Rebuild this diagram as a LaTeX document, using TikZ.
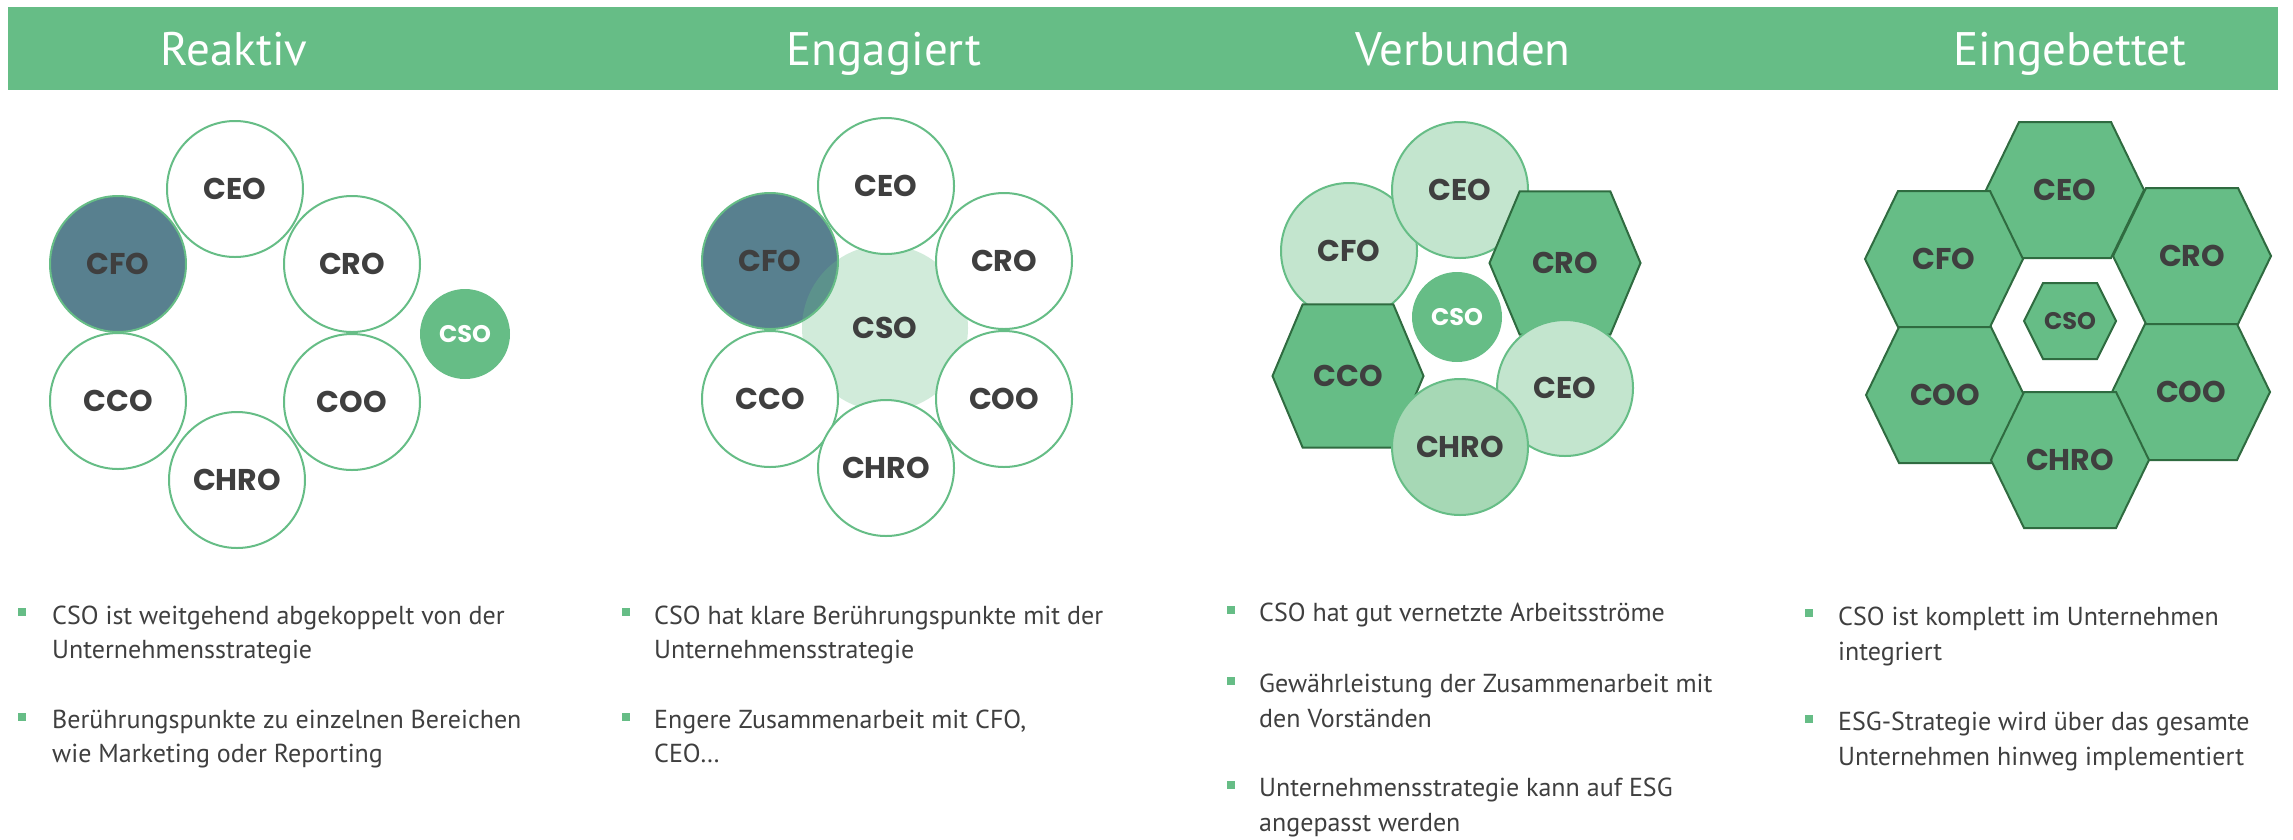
\documentclass[tikz,border=0pt]{standalone}
\usepackage{fontspec}
\setmainfont{PT Sans}
\newfontfamily\rolefont{Poppins}
\usepackage{xcolor}
\usepackage{tikz}
\definecolor{barGreen}{HTML}{66BD86}
\definecolor{cfoBlue}{HTML}{58808F}
\definecolor{paleGreen}{HTML}{C3E5CE}
\definecolor{midGreen}{HTML}{A6D8B5}
\definecolor{hexLine}{HTML}{2F6B40}
\definecolor{inkGray}{HTML}{3F3F3F}
\tikzstyle{head}=[text=white, anchor=base, inner sep=0pt, font=\fontsize{47}{47}\selectfont]
\tikzstyle{role}=[fill=white, draw=barGreen, line width=2pt, shape=circle, minimum size=136pt, inner sep=0pt, text=inkGray, font=\rolefont\bfseries\fontsize{30}{30}\selectfont]
\tikzstyle{cfo role}=[style=role, fill=cfoBlue]
\tikzstyle{pale role}=[style=role, fill=paleGreen]
\tikzstyle{mid role}=[style=role, fill=midGreen]
\tikzstyle{cso}=[fill=barGreen, shape=circle, minimum size=90pt, inner sep=0pt, text=white, font=\rolefont\bfseries\fontsize{24}{24}\selectfont]
\tikzstyle{cso halo}=[fill=barGreen, fill opacity=0.3, text opacity=1, shape=circle, minimum size=166pt, inner sep=0pt, text=inkGray, font=\rolefont\bfseries\fontsize{30}{30}\selectfont]
\tikzstyle{hex}=[fill=barGreen, draw=hexLine, line width=2pt]
\tikzstyle{hex label}=[inner sep=0pt, text=inkGray, font=\rolefont\bfseries\fontsize{30}{30}\selectfont]
\tikzstyle{small label}=[inner sep=0pt, text=inkGray, font=\rolefont\bfseries\fontsize{24}{24}\selectfont]
\tikzstyle{bullet}=[fill=barGreen, shape=rectangle, minimum size=8.5pt, inner sep=0pt]
\tikzstyle{line}=[anchor=base west, inner sep=0pt, text=inkGray, font=\fontsize{26}{26}\selectfont]
% hexagon: centre, half width, half top edge, half height, style
\newcommand{\hexat}[5]{\draw [style=#5, shift={#1}] (-#2,0) -- (-#3,-#4) -- (#3,-#4) -- (#2,0) -- (#3,#4) -- (-#3,#4) -- cycle;}
\pgfdeclarelayer{headlayer}
\pgfdeclarelayer{nodelayer}
\pgfdeclarelayer{textlayer}
\pgfsetlayers{headlayer,nodelayer,textlayer,main}

\begin{document}
\begin{tikzpicture}[x=1pt, y=-1pt]
	\useasboundingbox (0,0) rectangle (2293,839);
	\begin{pgfonlayer}{headlayer}
		\fill [barGreen] (8,7) rectangle (2278,90);
		\node [style=head] (0) at (234, 65) {Reaktiv};
		\node [style=head] (1) at (884, 65) {Engagiert};
		\node [style=head] (2) at (1463, 65) {Verbunden};
		\node [style=head] (3) at (2070, 65) {Eingebettet};
	\end{pgfonlayer}
	\begin{pgfonlayer}{nodelayer}
		% Reaktiv
		\node [style=role] (4) at (235, 189) {CEO};
		\node [style=cfo role] (5) at (118, 264) {CFO};
		\node [style=role] (6) at (352, 264) {CRO};
		\node [style=role] (7) at (118, 401) {CCO};
		\node [style=role] (8) at (352, 402) {COO};
		\node [style=role] (9) at (237, 480) {CHRO};
		\node [style=cso] (10) at (465, 334) {CSO};
		% Engagiert
		\node [style=cfo role] (11) at (770, 261) {CFO};
		\node [style=cso halo] (12) at (885, 328) {CSO};
		\node [style=role] (13) at (886, 186) {CEO};
		\node [style=role] (14) at (1004, 261) {CRO};
		\node [style=role] (15) at (770, 399) {CCO};
		\node [style=role] (16) at (1004, 399) {COO};
		\node [style=role] (17) at (886, 468) {CHRO};
		% Verbunden
		\node [style=pale role] (18) at (1349, 251) {CFO};
		\node [style=pale role] (19) at (1460, 190) {CEO};
		\hexat{(1565,263)}{75.5}{45.3}{71.7}{hex}
		\node [style=hex label] (20) at (1565, 263) {CRO};
		\hexat{(1348,376)}{75.5}{45.3}{71.7}{hex}
		\node [style=hex label] (21) at (1348, 376) {CCO};
		\node [style=pale role] (22) at (1565, 388) {CEO};
		\node [style=mid role] (23) at (1460, 447) {CHRO};
		\node [style=cso] (24) at (1457, 317) {CSO};
		% Eingebettet
		\hexat{(2065,190)}{79}{46}{68}{hex}
		\node [style=hex label] (25) at (2065, 190) {CEO};
		\hexat{(1944,259)}{79}{46}{68}{hex}
		\node [style=hex label] (26) at (1944, 259) {CFO};
		\hexat{(2192,256)}{79}{46}{68}{hex}
		\node [style=hex label] (27) at (2192, 256) {CRO};
		\hexat{(1945,395)}{79}{46}{68}{hex}
		\node [style=hex label] (28) at (1945, 395) {COO};
		\hexat{(2191,392)}{79}{46}{68}{hex}
		\node [style=hex label] (29) at (2191, 392) {COO};
		\hexat{(2070,460)}{79}{46}{68}{hex}
		\node [style=hex label] (30) at (2070, 460) {CHRO};
		\hexat{(2070,321)}{46}{27}{38}{hex}
		\node [style=small label] (31) at (2070, 321) {CSO};
	\end{pgfonlayer}
	\begin{pgfonlayer}{textlayer}
		\node [style=bullet] (32) at (22, 612) {};
		\node [style=line] (33) at (52, 624) {CSO ist weitgehend abgekoppelt von der};
		\node [style=line] (34) at (52, 658) {Unternehmensstrategie};
		\node [style=bullet] (35) at (22, 717) {};
		\node [style=line] (36) at (52, 728) {Berührungspunkte zu einzelnen Bereichen};
		\node [style=line] (37) at (52, 762) {wie Marketing oder Reporting};
		\node [style=bullet] (38) at (626, 612) {};
		\node [style=line] (39) at (654, 624) {CSO hat klare Berührungspunkte mit der};
		\node [style=line] (40) at (654, 658) {Unternehmensstrategie};
		\node [style=bullet] (41) at (626, 717) {};
		\node [style=line] (42) at (654, 728) {Engere Zusammenarbeit mit CFO,};
		\node [style=line] (43) at (654, 762) {CEO…};
		\node [style=bullet] (44) at (1231, 610) {};
		\node [style=line] (45) at (1259, 621) {CSO hat gut vernetzte Arbeitsströme};
		\node [style=bullet] (46) at (1231, 681) {};
		\node [style=line] (47) at (1259, 692) {Gewährleistung der Zusammenarbeit mit};
		\node [style=line] (48) at (1259, 727) {den Vorständen};
		\node [style=bullet] (49) at (1231, 785) {};
		\node [style=line] (50) at (1259, 796) {Unternehmensstrategie kann auf ESG};
		\node [style=line] (51) at (1259, 831) {angepasst werden};
		\node [style=bullet] (52) at (1809, 613) {};
		\node [style=line] (53) at (1838, 625) {CSO ist komplett im Unternehmen};
		\node [style=line] (54) at (1838, 660) {integriert};
		\node [style=bullet] (55) at (1809, 719) {};
		\node [style=line] (56) at (1838, 730) {ESG-Strategie wird über das gesamte};
		\node [style=line] (57) at (1838, 765) {Unternehmen hinweg implementiert};
	\end{pgfonlayer}
\end{tikzpicture}
\end{document}
